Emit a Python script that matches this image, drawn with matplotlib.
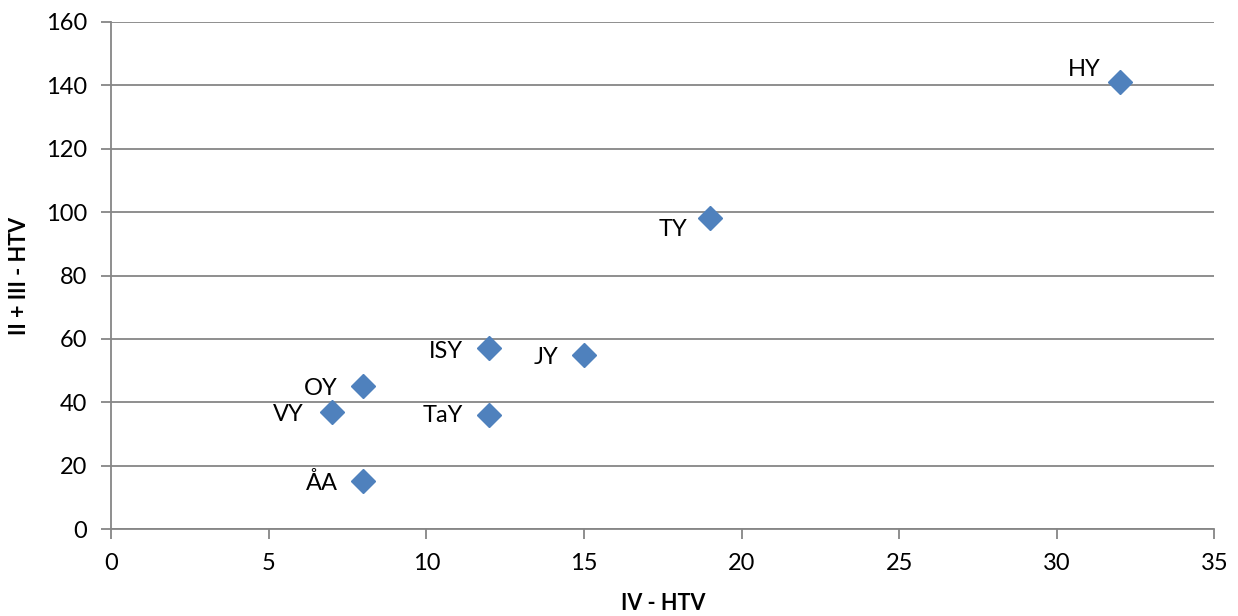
import matplotlib
matplotlib.use("Agg")
import matplotlib.pyplot as plt

plt.rcParams['font.family'] = ['Lato', 'DejaVu Sans']

names = ['HY', 'TY', 'ISY', 'JY', 'OY', 'VY', 'TaY', 'ÅA']
iv_htv = [32, 19, 12, 15, 8, 7, 12, 8]
ii_iii_htv = [141, 98, 57, 55, 45, 37, 36, 15]

# label offsets in pixels (right edge of text, vertical centre)
offsets = {'HY': (-19, 13), 'TY': (-23, -11), 'ISY': (-26, -3), 'JY': (-26, -3),
           'OY': (-26, -2), 'VY': (-28, -3), 'TaY': (-26, -1), 'ÅA': (-25, -2)}

grid_col = '#868686'

fig = plt.figure(figsize=(12.38, 6.16), dpi=100)
ax = fig.add_axes([0.0897, 0.1412, 0.8913, 0.8231])

ax.plot(iv_htv, ii_iii_htv, linestyle='none', marker='D', markersize=12,
        color='#4F81BD', markeredgecolor='#4F81BD', zorder=3, clip_on=False)

for n, x, y in zip(names, iv_htv, ii_iii_htv):
    dx, dy = offsets[n]
    ax.annotate(n, (x, y), xytext=(dx, dy), textcoords='offset pixels',
                ha='right', va='center', fontsize=17, color='black')

ax.set_xlim(0, 35)
ax.set_ylim(0, 160)
ax.set_xticks(range(0, 36, 5))
ax.set_yticks(range(0, 161, 20))
ax.yaxis.grid(True, color=grid_col, linewidth=1.3)
ax.set_axisbelow(True)

for s in ['top', 'right']:
    ax.spines[s].set_visible(False)
for s in ['left', 'bottom']:
    ax.spines[s].set_color(grid_col)
    ax.spines[s].set_linewidth(1.3)

ax.tick_params(axis='both', direction='out', length=7, width=1.3, color=grid_col,
               labelsize=17)
ax.tick_params(axis='x', pad=10)
ax.tick_params(axis='y', pad=10)

ax.set_xlabel('IV - HTV', fontsize=15.5, fontweight='bold', labelpad=14)
ax.set_ylabel('II + III - HTV', fontsize=15.5, fontweight='bold', labelpad=12)

fig.savefig('out.png', dpi=100)
